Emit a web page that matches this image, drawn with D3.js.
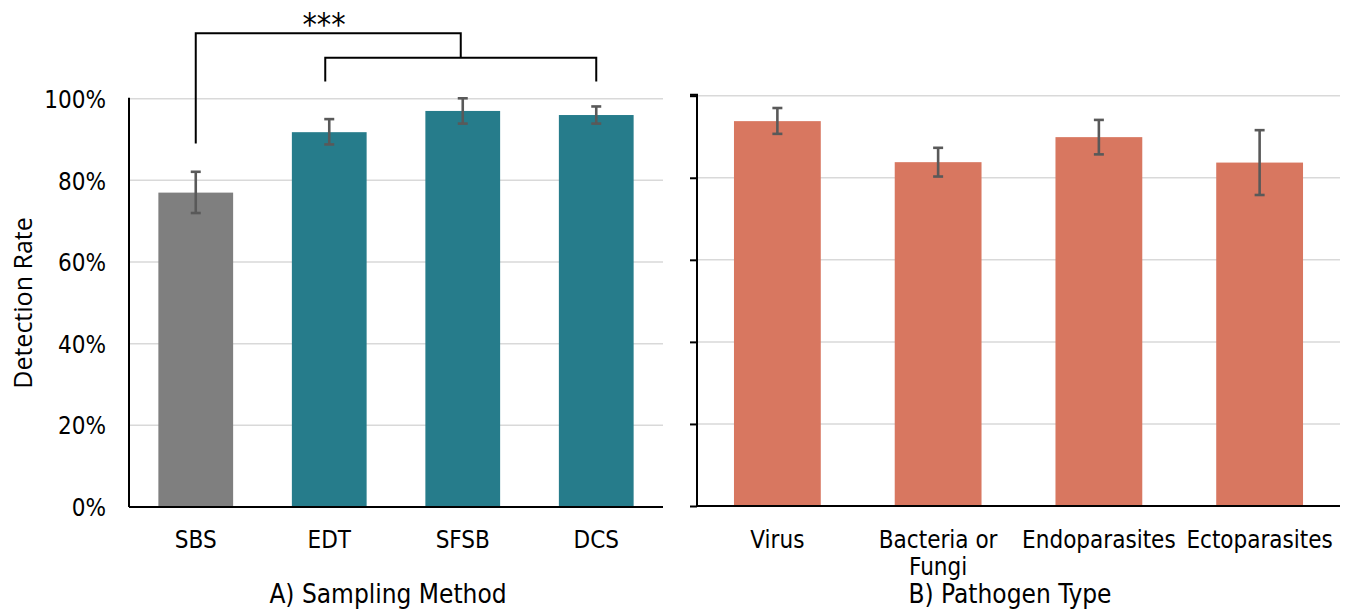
<!DOCTYPE html>
<html>
<head>
<meta charset="utf-8">
<script src="https://cdn.jsdelivr.net/npm/d3@7.9.0/dist/d3.min.js"></script>
<style>
  body { margin: 0; background: #fff; }
  svg text { font-family: "DejaVu Sans Condensed", "DejaVu Sans", sans-serif; fill: #000; }
</style>
</head>
<body>
<svg id="chart" width="1345" height="611"></svg>
<script>
// Panel A: sampling method
const methods = ["SBS", "EDT", "SFSB", "DCS"];
const methodRate = [77.0, 91.8, 97.0, 96.0];
const methodLow = [72.0, 88.8, 93.9, 93.9];
const methodHigh = [82.1, 95.0, 100.1, 98.1];
const methodColors = ["#7f7f7f", "#267c8b", "#267c8b", "#267c8b"];

// Panel B: pathogen type
const pathogens = ["Virus", "Bacteria or\nFungi", "Endoparasites", "Ectoparasites"];
const pathogenRate = [93.8, 83.8, 89.9, 83.7];
const pathogenLow = [90.7, 80.3, 85.7, 75.8];
const pathogenHigh = [97.0, 87.3, 94.1, 91.6];

const yTicks = [0, 20, 40, 60, 80, 100];

// significance brackets (percent units on panel A scale)
const outerBracket = { from: "SBS", legBottom: 89, top: 116 };
const innerBracket = { from: "EDT", to: "DCS", legBottom: 104.2, top: 110 };
const sigLabel = "***";

const svg = d3.select("#chart");

function panel({ cats, rate, low, high, colors, x0, x1, yTop, yBottom, pad, tickLabels, outerTicks, title, titleX }) {
    const x = d3.scaleBand().domain(cats).range([x0, x1]).paddingInner(pad).paddingOuter(pad / 2);
    const y = d3.scaleLinear().domain([0, 100]).range([yBottom, yTop]);
    const g = svg.append("g");

    // gridlines
    g.selectAll(".grid").data(yTicks.slice(1)).join("line")
        .attr("x1", x0).attr("x2", x1)
        .attr("y1", d => y(d)).attr("y2", d => y(d))
        .attr("stroke", "#d9d9d9").attr("stroke-width", 1.5);

    const data = cats.map((c, i) => ({ c, v: rate[i], lo: low[i], hi: high[i], col: colors[i] }));

    g.selectAll(".bar").data(data).join("rect")
        .attr("x", d => x(d.c)).attr("width", x.bandwidth())
        .attr("y", d => y(d.v)).attr("height", d => y(0) - y(d.v))
        .attr("fill", d => d.col);

    // error bars
    const mid = d => x(d.c) + x.bandwidth() / 2;
    const eb = g.selectAll(".err").data(data).join("g")
        .attr("stroke", "#595959").attr("stroke-width", 2.6);
    eb.append("line")
        .attr("x1", mid).attr("x2", mid)
        .attr("y1", d => y(d.lo)).attr("y2", d => y(d.hi));
    eb.append("line")
        .attr("x1", d => mid(d) - 5).attr("x2", d => mid(d) + 5)
        .attr("y1", d => y(d.hi)).attr("y2", d => y(d.hi));
    eb.append("line")
        .attr("x1", d => mid(d) - 5).attr("x2", d => mid(d) + 5)
        .attr("y1", d => y(d.lo)).attr("y2", d => y(d.lo));

    // y axis
    const yAxis = d3.axisLeft(y).tickValues(yTicks)
        .tickSize(outerTicks ? 7 : 0)
        .tickFormat(tickLabels ? d => d + "%" : "");
    const ya = g.append("g").attr("transform", `translate(${x0},0)`).call(yAxis);
    ya.select(".domain").attr("stroke", "#000").attr("stroke-width", 2)
        .attr("d", `M${outerTicks ? -7 : 0},${y(100) - 1}H0V${y(0)}`);
    ya.selectAll(".tick line").attr("stroke", "#000").attr("stroke-width", 2);
    ya.selectAll(".tick text").attr("x", -23).attr("dy", "0.36em").style("font-size", "24px");

    // x axis
    const xa = g.append("g").attr("transform", `translate(0,${y(0)})`)
        .call(d3.axisBottom(x).tickSize(0).tickFormat(""));
    xa.select(".domain").attr("stroke", "#000").attr("stroke-width", 2)
        .attr("d", `M${x0},0H${x1}`);

    const lbl = g.selectAll(".xlbl").data(cats).join("text")
        .attr("text-anchor", "middle")
        .attr("y", 548)
        .style("font-size", "24px");
    lbl.each(function (d) {
        d.split("\n").forEach((line, i) => {
            d3.select(this).append("tspan")
                .attr("x", x(d) + x.bandwidth() / 2)
                .attr("dy", i === 0 ? 0 : 27)
                .text(line);
        });
    });

    g.append("text").attr("x", titleX).attr("y", 603)
        .attr("text-anchor", "middle").style("font-size", "26px").text(title);

    return { x, y };
}

const A = panel({
    cats: methods, rate: methodRate, low: methodLow, high: methodHigh, colors: methodColors,
    x0: 129, x1: 663, yTop: 98.7, yBottom: 507, pad: 0.44, tickLabels: true, outerTicks: false,
    title: "A) Sampling Method", titleX: 388
});

panel({
    cats: pathogens, rate: pathogenRate, low: pathogenLow, high: pathogenHigh,
    colors: pathogens.map(() => "#d87760"),
    x0: 697, x1: 1340, yTop: 95.7, yBottom: 506, pad: 0.46, tickLabels: false, outerTicks: true,
    title: "B) Pathogen Type", titleX: 1010
});

// y axis title
svg.append("text")
    .attr("transform", "translate(32,303) rotate(-90)")
    .attr("text-anchor", "middle")
    .style("font-family", "'Open Sans', sans-serif")
    .style("font-size", "25px")
    .text("Detection Rate");

// significance brackets
const cx = c => A.x(c) + A.x.bandwidth() / 2;
const innerL = cx(innerBracket.from) - 4, innerR = cx(innerBracket.to);
const innerMid = (innerL + innerR) / 2;
const br = svg.append("g").attr("fill", "none").attr("stroke", "#000").attr("stroke-width", 2);
br.append("path").attr("d",
    `M${cx(outerBracket.from)},${A.y(outerBracket.legBottom)}V${A.y(outerBracket.top)}H${innerMid}V${A.y(innerBracket.top)}`);
br.append("path").attr("d",
    `M${innerL},${A.y(innerBracket.legBottom)}V${A.y(innerBracket.top)}H${innerR}V${A.y(innerBracket.legBottom)}`);
svg.append("text").attr("x", 324).attr("y", 35)
    .attr("text-anchor", "middle").style("font-size", "32px").text(sigLabel);
</script>
</body>
</html>
